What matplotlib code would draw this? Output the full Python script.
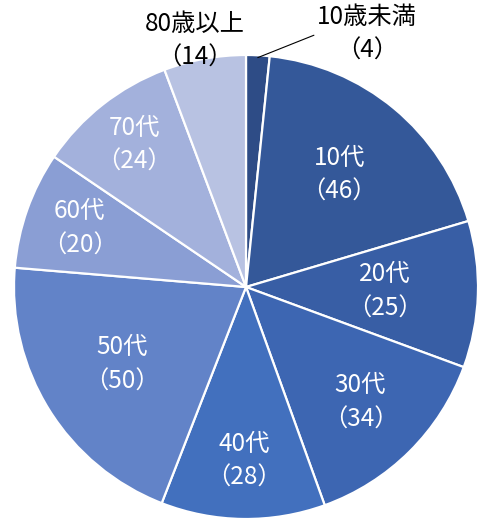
# -*- coding: utf-8 -*-
# Pie chart of respondents by age group
import numpy as np
import matplotlib
matplotlib.use('Agg')
import matplotlib.pyplot as plt

plt.rcParams['font.family'] = ['Noto Sans CJK JP', 'DejaVu Sans']

# -- Data
groups = ['10歳未満', '10代', '20代', '30代', '40代', '50代', '60代', '70代', '80歳以上']
counts = [4, 46, 25, 34, 28, 50, 20, 24, 14]

# -- Styles
colors = ['#2E4C86', '#345899', '#385EA5', '#3D66B2', '#4270BE',
          '#6283C8', '#8A9ED4', '#A3B1DC', '#B8C2E2']
label_dist = [None, 0.63, 0.60, 0.70, 0.75, 0.63, 0.76, 0.78, None]
fsize = 17.5

fig = plt.figure(figsize=(4.81, 5.2), dpi=100)
ax = fig.add_axes([14 / 481, 1 / 520, 464 / 481, 464 / 520])

wedges, _ = ax.pie(
    counts,
    colors=colors,
    startangle=90,
    counterclock=False,
    radius=1.0,
    wedgeprops=dict(edgecolor='white', linewidth=1.6),
)
ax.set_xlim(-1, 1)
ax.set_ylim(-1, 1)
ax.set_aspect('equal')
ax.axis('off')

# -- Inside labels
for w, name, n, d in zip(wedges, groups, counts, label_dist):
    if d is None:
        continue
    ang = np.deg2rad((w.theta1 + w.theta2) / 2)
    ax.text(d * np.cos(ang), d * np.sin(ang), f'{name}\n（{n}）',
            ha='center', va='center', color='white', fontsize=fsize,
            linespacing=1.4)

# -- Outside labels
w0 = wedges[0]
ang0 = np.deg2rad((w0.theta1 + w0.theta2) / 2)
x0, y0 = np.cos(ang0), np.sin(ang0)
ax.annotate(f'{groups[0]}\n（{counts[0]}）', xy=(x0 * 0.99, y0 * 0.99),
            xytext=(0.52, 1.09), ha='center', va='center',
            fontsize=fsize, color='black', linespacing=1.4,
            arrowprops=dict(arrowstyle='-', color='black', lw=0.8,
                            shrinkA=0, shrinkB=0,
                            relpos=(0.0, 0.5)),
            annotation_clip=False)

ax.text(-0.22, 1.06, f'{groups[-1]}\n（{counts[-1]}）',
        ha='center', va='center', fontsize=fsize, color='black',
        linespacing=1.4)

fig.savefig('out.png', dpi=100)
